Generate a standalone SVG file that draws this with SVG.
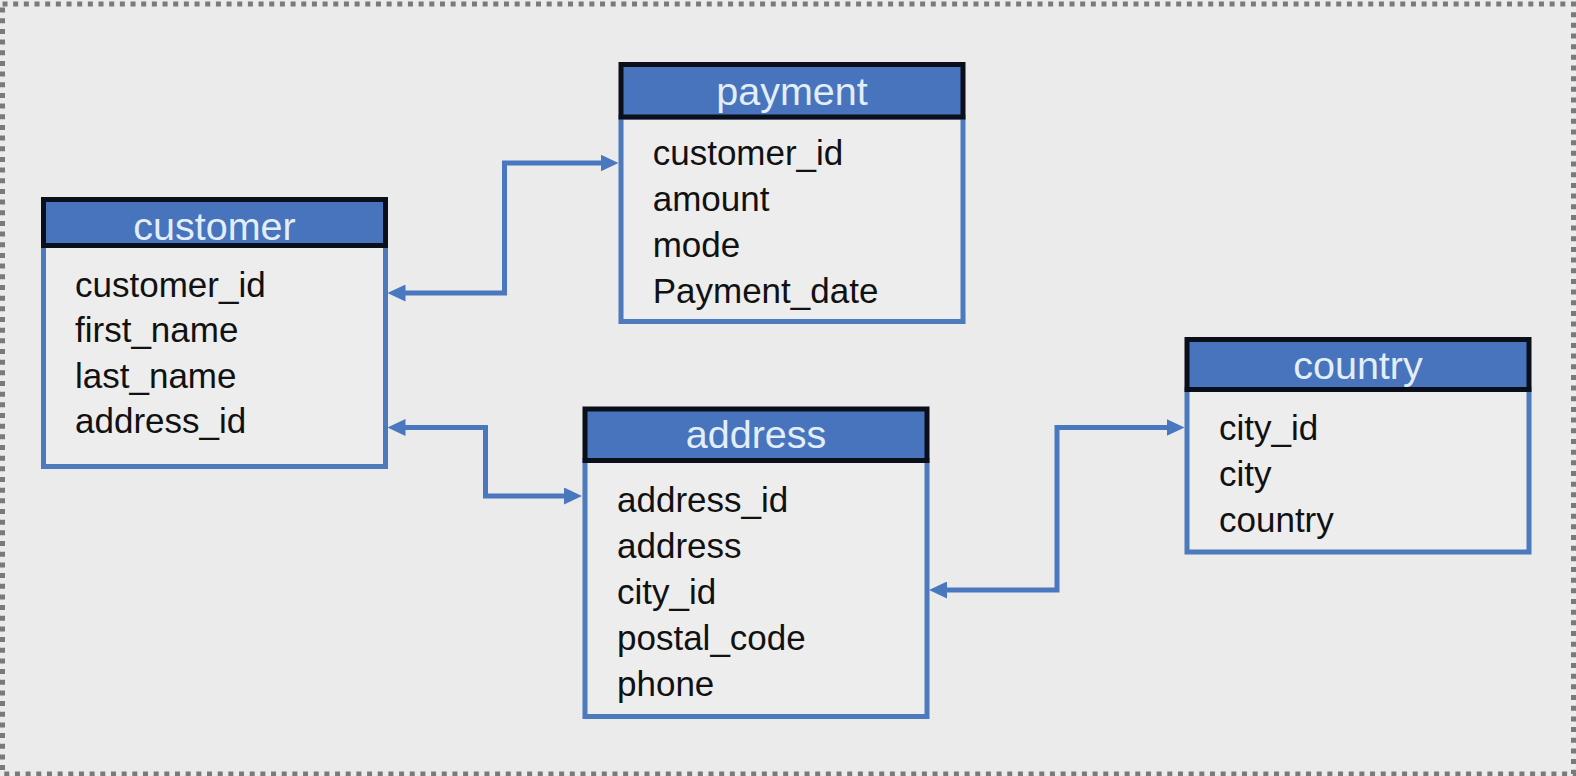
<svg xmlns="http://www.w3.org/2000/svg" width="1576" height="776" viewBox="0 0 1576 776">
<style>
.bg{fill:#ebebeb}
.frame{fill:none;stroke:#7a7a7a;stroke-width:5;stroke-dasharray:5 5.67}
.body{fill:#ededed;stroke:#4d79bd;stroke-width:5}
.head{fill:#4873bd;stroke:#0b0f1a;stroke-width:5}
.ht{font-family:"Liberation Sans",Arial,sans-serif;font-size:39.5px;fill:#e2eefa;text-anchor:middle}
.ft{font-family:"Liberation Sans",Arial,sans-serif;font-size:35px;fill:#111111}
.conn{fill:none;stroke:#4a78c0;stroke-width:5;stroke-linejoin:miter;stroke-linecap:butt}
</style>
<defs>
<marker id="arr" viewBox="0 0 18 17" refX="2" refY="8.5" markerWidth="18" markerHeight="17" markerUnits="userSpaceOnUse" orient="auto-start-reverse">
<path d="M0,0 L18,8.5 L0,17 Z" fill="#4a78c0"/>
</marker>
</defs>
<rect class="bg" x="0" y="0" width="1576" height="776"/>
<rect class="frame" x="2.5" y="4" width="1571" height="770"/>

<g id="connectors">
<path class="conn" d="M403.5,293 H504.5 V163 H602.5" marker-start="url(#arr)" marker-end="url(#arr)"/>
<path class="conn" d="M403.5,427.5 H485.5 V496 H566" marker-start="url(#arr)" marker-end="url(#arr)"/>
<path class="conn" d="M945,590 H1057 V427.5 H1168.5" marker-start="url(#arr)" marker-end="url(#arr)"/>
</g>

<g id="customer">
<rect class="body" x="43.5" y="245.5" width="342" height="221"/>
<rect class="head" x="43.5" y="199.5" width="342" height="46"/>
<text class="ht" x="214.5" y="240">customer</text>
<text class="ft" x="75" y="296.7">customer_id</text>
<text class="ft" x="75" y="342.2">first_name</text>
<text class="ft" x="75" y="387.7">last_name</text>
<text class="ft" x="75" y="433.2">address_id</text>
</g>

<g id="payment">
<rect class="body" x="621" y="117" width="342" height="204.5"/>
<rect class="head" x="621" y="64.5" width="342" height="52.5"/>
<text class="ht" x="792" y="104.5">payment</text>
<text class="ft" x="652.7" y="165">customer_id</text>
<text class="ft" x="652.7" y="211">amount</text>
<text class="ft" x="652.7" y="257">mode</text>
<text class="ft" x="652.7" y="303">Payment_date</text>
</g>

<g id="address">
<rect class="body" x="585" y="460.5" width="342" height="256"/>
<rect class="head" x="585" y="409" width="342" height="51.5"/>
<text class="ht" x="756" y="448">address</text>
<text class="ft" x="617" y="511.7">address_id</text>
<text class="ft" x="617" y="557.7">address</text>
<text class="ft" x="617" y="603.7">city_id</text>
<text class="ft" x="617" y="649.7">postal_code</text>
<text class="ft" x="617" y="695.7">phone</text>
</g>

<g id="country">
<rect class="body" x="1187" y="389.5" width="342" height="162.5"/>
<rect class="head" x="1187" y="339.5" width="342" height="50"/>
<text class="ht" x="1358" y="379">country</text>
<text class="ft" x="1219" y="440">city_id</text>
<text class="ft" x="1219" y="486">city</text>
<text class="ft" x="1219" y="532">country</text>
</g>
</svg>
